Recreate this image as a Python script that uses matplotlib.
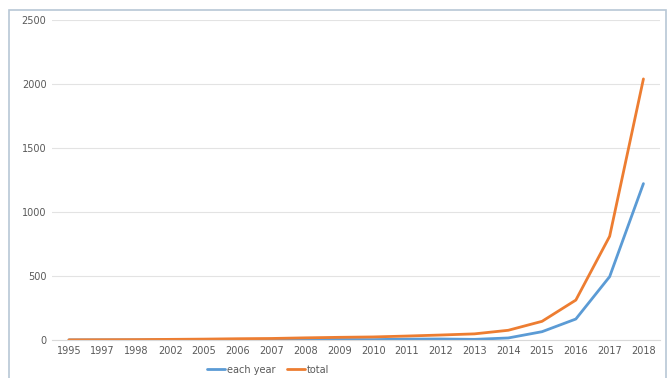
import matplotlib.pyplot as plt
from matplotlib.patches import Rectangle

years = ['1995', '1997', '1998', '2002', '2005', '2006', '2007', '2008', '2009',
         '2010', '2011', '2012', '2013', '2014', '2015', '2016', '2017', '2018']
each_year = [1, 1, 1, 2, 2, 3, 2, 5, 4, 3, 7, 8, 5, 16, 65, 164, 495, 1222]
total = [1, 2, 3, 5, 7, 10, 12, 17, 21, 24, 31, 39, 48, 76, 146, 312, 810, 2040]

fig = plt.figure(figsize=(6.67, 3.78), dpi=100)
ax = fig.add_axes([0.078, 0.1005, 0.912, 0.8465])

x = range(len(years))
ax.plot(x, each_year, color='#5B9BD5', lw=2, label='each year', solid_capstyle='round')
ax.plot(x, total, color='#ED7D31', lw=2, label='total', solid_capstyle='round')

ax.set_xlim(-0.5, len(years) - 0.5)
ax.set_ylim(0, 2500)
ax.set_yticks(range(0, 2501, 500))
ax.set_xticks(list(x))
ax.set_xticklabels(years)
ax.grid(axis='y', color='#E3E3E3', lw=0.8)
ax.set_axisbelow(True)
for s in ['top', 'right', 'left']:
    ax.spines[s].set_visible(False)
ax.spines['bottom'].set_color('#D9D9D9')
ax.tick_params(axis='both', length=0, labelsize=7, colors='#595959', pad=4)

fig.legend(loc='center', bbox_to_anchor=(0.402, 0.022), ncol=2, frameon=False,
           fontsize=7, labelcolor='#595959', handlelength=1.8, handletextpad=0.2,
           columnspacing=1.2, borderpad=0)

fig.patches.append(Rectangle((0.013, -0.01), 0.985, 0.983, transform=fig.transFigure,
                             fill=False, edgecolor='#B8C7D6', lw=1.2))

plt.savefig('out.png', dpi=100)
